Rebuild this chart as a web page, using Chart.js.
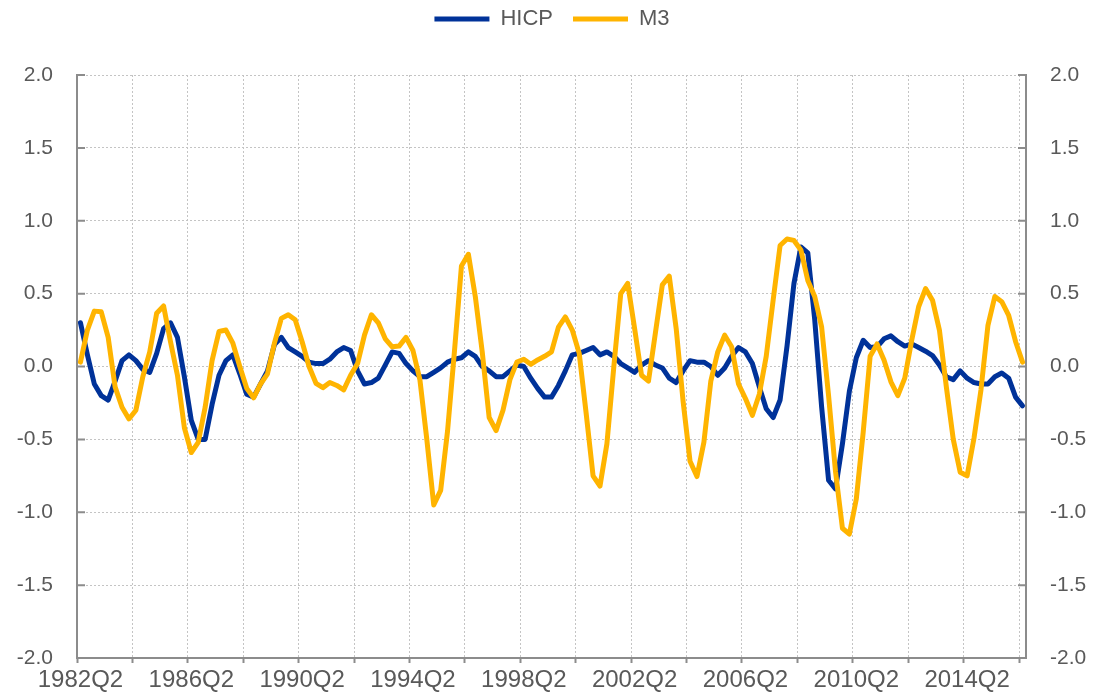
<!DOCTYPE html>
<html>
<head>
<meta charset="utf-8">
<script src="https://cdn.jsdelivr.net/npm/chart.js@4.4.1/dist/chart.umd.min.js"></script>
<style>
html,body{margin:0;padding:0;background:#ffffff;}
#wrap{width:1104px;height:698px;position:relative;}
</style>
</head>
<body>
<div id="wrap"><canvas id="c"></canvas></div>
<script>
// Categories: quarters 1982Q2 .. 2016Q2
const firstYear = 1982, firstQuarter = 2, quarterCount = 137;
const quarters = [];
for (let k = 0; k < quarterCount; k++) {
  const q = firstQuarter - 1 + k;
  quarters.push((firstYear + Math.floor(q / 4)) + 'Q' + (q % 4 + 1));
}
const tickLabels = ['1982Q2','1986Q2','1990Q2','1994Q2','1998Q2','2002Q2','2006Q2','2010Q2','2014Q2'];

const hicp = [
  0.30, 0.08, -0.12, -0.20, -0.23, -0.10, 0.04, 0.08, 0.04, -0.02,
  -0.04, 0.09, 0.26, 0.30, 0.20, -0.07, -0.37, -0.50, -0.50, -0.26,
  -0.06, 0.04, 0.08, -0.05, -0.19, -0.21, -0.12, -0.03, 0.15, 0.20,
  0.13, 0.10, 0.07, 0.03, 0.02, 0.02, 0.05, 0.10, 0.13, 0.11,
  -0.03, -0.12, -0.11, -0.08, 0.01, 0.10, 0.09, 0.02, -0.03, -0.07,
  -0.07, -0.04, -0.01, 0.03, 0.05, 0.06, 0.10, 0.07, 0.00, -0.03,
  -0.07, -0.07, -0.03, 0.01, 0.00, -0.08, -0.15, -0.21, -0.21, -0.13,
  -0.03, 0.08, 0.09, 0.11, 0.13, 0.08, 0.10, 0.07, 0.02, -0.01,
  -0.04, 0.01, 0.04, 0.01, -0.01, -0.08, -0.11, -0.03, 0.04, 0.03,
  0.03, 0.00, -0.06, -0.01, 0.07, 0.13, 0.10, 0.02, -0.14, -0.29,
  -0.35, -0.23, 0.14, 0.57, 0.82, 0.78, 0.32, -0.28, -0.78, -0.84,
  -0.53, -0.17, 0.06, 0.18, 0.13, 0.135, 0.19, 0.21, 0.17, 0.14,
  0.155, 0.13, 0.105, 0.075, 0.01, -0.07, -0.09, -0.03, -0.08, -0.11,
  -0.12, -0.12, -0.07, -0.045, -0.08, -0.21, -0.27
];

const m3 = [
  0.03, 0.25, 0.38, 0.375, 0.20, -0.14, -0.28, -0.36, -0.30, -0.07,
  0.10, 0.365, 0.415, 0.17, -0.06, -0.42, -0.59, -0.52, -0.28, 0.04,
  0.24, 0.25, 0.16, 0.00, -0.15, -0.215, -0.12, -0.05, 0.16, 0.33,
  0.355, 0.32, 0.17, 0.00, -0.115, -0.145, -0.11, -0.13, -0.16, -0.06,
  0.02, 0.215, 0.355, 0.30, 0.19, 0.135, 0.14, 0.20, 0.11, -0.09,
  -0.50, -0.95, -0.85, -0.44, 0.11, 0.69, 0.77, 0.48, 0.10, -0.35,
  -0.44, -0.30, -0.09, 0.03, 0.05, 0.015, 0.045, 0.07, 0.10, 0.27,
  0.34, 0.25, 0.09, -0.32, -0.75, -0.82, -0.53, 0.00, 0.50, 0.57,
  0.26, -0.06, -0.10, 0.23, 0.56, 0.62, 0.26, -0.24, -0.65, -0.755,
  -0.52, -0.10, 0.10, 0.215, 0.135, -0.12, -0.22, -0.335, -0.19, 0.07,
  0.456, 0.83, 0.875, 0.865, 0.80, 0.59, 0.48, 0.27, -0.20, -0.72,
  -1.11, -1.15, -0.91, -0.45, 0.07, 0.155, 0.045, -0.105, -0.20, -0.08,
  0.18, 0.41, 0.535, 0.455, 0.25, -0.14, -0.50, -0.725, -0.75, -0.49,
  -0.16, 0.28, 0.48, 0.445, 0.35, 0.17, 0.03
];

const FONT = '"Liberation Sans", Arial, sans-serif';
const TEXT = '#595959';
const AXIS = '#8c8c8c';
const GRID = '#c4c4c4';
const BLUE = '#003299';
const YELLOW = '#FFB400';

const innerTicks = {
  id: 'innerTicks',
  beforeDatasetsDraw(chart) {
    const ctx = chart.ctx;
    const {left, right} = chart.chartArea;
    const ys = chart.scales.y;
    ctx.save();
    ctx.strokeStyle = AXIS;
    ctx.lineWidth = 2;
    ys.ticks.forEach(t => {
      const py = ys.getPixelForValue(t.value);
      ctx.beginPath();
      ctx.moveTo(left, py); ctx.lineTo(left + 8, py);
      ctx.moveTo(right, py); ctx.lineTo(right - 8, py);
      ctx.stroke();
    });
    ctx.restore();
  }
};

const yTickCfg = {
  stepSize: 0.5,
  padding: 24,
  color: TEXT,
  font: {family: FONT, size: 21},
  callback: v => Number(v).toFixed(1)
};

new Chart(document.getElementById('c'), {
  type: 'line',
  data: {
    labels: quarters,
    datasets: [
      {label: 'HICP', data: hicp, borderColor: BLUE, backgroundColor: BLUE, borderWidth: 5,
       pointRadius: 0, tension: 0, borderJoinStyle: 'round', borderCapStyle: 'round', order: 1, pointStyle: 'line'},
      {label: 'M3', data: m3, borderColor: YELLOW, backgroundColor: YELLOW, borderWidth: 5,
       pointRadius: 0, tension: 0, borderJoinStyle: 'round', borderCapStyle: 'round', order: 0, pointStyle: 'line'}
    ]
  },
  options: {
    responsive: true,
    maintainAspectRatio: false,
    animation: false,
    layout: {padding: {top: -12, left: 0, right: 0, bottom: 0}},
    plugins: {
      legend: {
        display: true, position: 'top', weight: 3000,
        labels: {
          usePointStyle: true, pointStyle: 'line', pointStyleWidth: 55,
          padding: 20, color: TEXT, font: {family: FONT, size: 22},
          sort: (a, b) => a.datasetIndex - b.datasetIndex
        }
      },
      title: {display: true, text: '', weight: 2000, font: {size: 10}, padding: {top: 0, bottom: 23}},
      tooltip: {enabled: false}
    },
    scales: {
      x: {
        type: 'category',
        offset: true,
        grid: {
          offset: true,
          color: c => (c.index % 8 === 0 ? GRID : 'rgba(0,0,0,0)'),
          lineWidth: 1,
          drawTicks: true,
          tickLength: 5,
          tickWidth: 2,
          tickColor: c => (c.index % 8 === 0 ? AXIS : 'rgba(0,0,0,0)')
        },
        border: {display: true, color: AXIS, width: 2, dash: [2, 2]},
        ticks: {
          autoSkip: false, maxRotation: 0, minRotation: 0, padding: 3,
          color: TEXT, font: {family: FONT, size: 24},
          callback: function (v) {
            const l = this.getLabelForValue(v);
            return tickLabels.includes(l) ? l : '';
          }
        },
        afterFit: s => { s.height = 40; }
      },
      y: {
        position: 'left', min: -2, max: 2,
        ticks: yTickCfg,
        grid: {color: GRID, lineWidth: 1, drawTicks: false},
        border: {display: true, color: AXIS, width: 2, dash: [2, 2]},
        afterFit: s => { s.width = 77; }
      },
      y2: {
        position: 'right', min: -2, max: 2,
        ticks: yTickCfg,
        grid: {drawOnChartArea: false, drawTicks: false},
        border: {display: true, color: AXIS, width: 2},
        afterFit: s => { s.width = 78; }
      }
    }
  },
  plugins: [innerTicks]
});
</script>
</body>
</html>
